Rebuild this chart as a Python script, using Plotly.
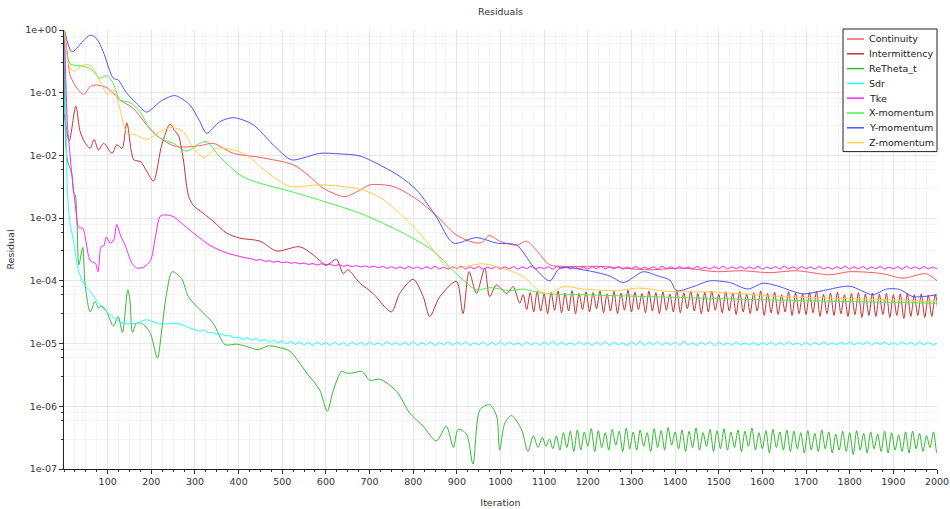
import plotly.graph_objects as go

# ---------------- data ----------------
cont_it = [1, 8, 14, 30, 45, 60, 75, 98, 128, 159, 189, 220, 258, 311, 342, 388, 449, 525, 560, 594,
           643, 678, 701, 754, 808, 853, 899, 945, 960, 974, 998, 1037, 1060, 1082, 1113, 1151, 1227,
           1342, 1418, 1495, 1551, 1617, 1678, 1754, 1800, 1876, 1922, 1975, 2000]
cont_val = [1.0, 0.4, 0.19, 0.117, 0.094, 0.125, 0.133, 0.12, 0.077, 0.056, 0.031, 0.019, 0.0138,
            0.0143, 0.0156, 0.0108, 0.0093, 0.0071, 0.0048, 0.003, 0.0022, 0.0028, 0.0034, 0.0032,
            0.002, 0.0011, 5.4e-4, 4.0e-4, 4.2e-4, 5.3e-4, 4.3e-4, 3.7e-4, 4.3e-4, 3.1e-4, 1.8e-4,
            1.7e-4, 1.7e-4, 1.5e-4, 1.6e-4, 1.4e-4, 1.45e-4, 1.35e-4, 1.45e-4, 1.25e-4, 1.4e-4,
            1.3e-4, 1.1e-4, 1.3e-4, 1.0e-4]

inter_it = [1, 12, 27, 37, 49, 60, 69, 79, 91, 110, 121, 133, 144, 160, 175, 190, 205, 224, 243, 254,
            262, 273, 285, 296, 319, 342, 372, 403, 449, 487, 540, 571, 601, 624, 640, 650, 678, 708,
            750, 769, 800, 823, 838, 861, 899, 914, 928, 945, 964, 975, 991, 1014, 1029, 1044]
inter_val = [0.045, 0.017, 0.061, 0.024, 0.0156, 0.013, 0.018, 0.0122, 0.0156, 0.0108, 0.0148, 0.013,
             0.033, 0.0085, 0.008, 0.0055, 0.0039, 0.0148, 0.0316, 0.0245, 0.021, 0.009, 0.0023,
             0.0016, 0.0012, 8.9e-4, 5.8e-4, 4.8e-4, 4.3e-4, 3.0e-4, 3.5e-4, 2.6e-4, 1.8e-4, 2.2e-4,
             1.3e-4, 1.5e-4, 9.2e-5, 6.3e-5, 3.2e-5, 6.3e-5, 1.06e-4, 5.6e-5, 2.7e-5, 5.6e-5, 9.8e-5,
             3.0e-5, 1.4e-4, 6.3e-5, 1.6e-4, 5.6e-5, 8.6e-5, 6.3e-5, 8.1e-5, 4.4e-5]
inter_tail_start, inter_tail_step = 1052, 8
inter_tail = [6.0e-5, 3.5e-5, 6.5e-5, 3.2e-5, 6.8e-5, 3.3e-5, 6.2e-5, 3.0e-5, 6.6e-5, 3.4e-5,
              6.9e-5, 3.1e-5, 6.4e-5, 3.3e-5, 7.0e-5, 3.0e-5, 6.3e-5, 3.5e-5, 6.7e-5, 3.2e-5,
              6.5e-5, 3.6e-5, 6.9e-5, 3.1e-5, 6.2e-5, 3.3e-5, 6.8e-5, 3.0e-5, 6.4e-5, 3.4e-5,
              7.1e-5, 3.2e-5, 6.6e-5, 3.5e-5, 6.3e-5, 3.1e-5, 6.9e-5, 3.3e-5, 6.5e-5, 3.0e-5,
              6.7e-5, 3.4e-5, 6.2e-5, 3.2e-5, 7.0e-5, 3.1e-5, 6.4e-5, 3.6e-5, 6.8e-5, 3.3e-5,
              6.3e-5, 3.0e-5, 6.6e-5, 3.2e-5, 6.9e-5, 3.4e-5, 6.1e-5, 3.1e-5, 6.7e-5, 3.3e-5,
              6.4e-5, 2.9e-5, 6.8e-5, 3.2e-5, 6.2e-5, 3.0e-5, 6.5e-5, 3.3e-5, 6.9e-5, 2.8e-5,
              6.3e-5, 3.1e-5, 6.6e-5, 2.9e-5, 6.0e-5, 3.2e-5, 6.7e-5, 2.8e-5, 6.4e-5, 3.0e-5,
              6.2e-5, 2.9e-5, 6.5e-5, 3.1e-5, 6.8e-5, 2.7e-5, 6.1e-5, 3.0e-5, 6.4e-5, 2.8e-5,
              6.6e-5, 3.0e-5, 6.0e-5, 2.7e-5, 6.3e-5, 2.9e-5, 6.5e-5, 2.6e-5, 6.2e-5, 2.8e-5,
              6.4e-5, 2.7e-5, 6.1e-5, 2.9e-5, 6.3e-5, 2.6e-5, 6.0e-5, 2.8e-5, 6.2e-5, 2.5e-5,
              6.3e-5, 2.7e-5, 6.0e-5, 2.8e-5, 6.2e-5, 2.6e-5, 5.9e-5, 2.7e-5, 6.1e-5, 2.5e-5]

ret_it = [1, 7, 18, 22, 26, 30, 34, 43, 48, 60, 71, 79, 86, 98, 113, 124, 134, 146, 151, 157, 166,
          178, 197, 214, 224, 235, 248, 269, 285, 311, 342, 369, 395, 418, 445, 468, 495, 517, 556,
          586, 603, 617, 636, 647, 662, 682, 701, 724, 762, 792, 823, 853, 876, 892, 903, 922, 937,
          953, 975, 991, 998, 1010, 1025, 1048, 1063, 1075, 1086, 1096]
ret_val = [1.0, 0.009, 0.005, 0.0026, 0.0023, 7.9e-4, 1.8e-4, 3.4e-4, 9.2e-5, 3.2e-5, 4.7e-5, 3.7e-5,
           4.0e-5, 3.2e-5, 1.9e-5, 2.7e-5, 1.5e-5, 7.2e-5, 5.0e-5, 1.5e-5, 2.1e-5, 2.1e-5, 1.5e-5,
           5.9e-6, 1.67e-5, 6.3e-5, 1.4e-4, 1.1e-4, 5.6e-5, 3.5e-5, 2.1e-5, 9.6e-6, 9.8e-6, 9.0e-6,
           8.0e-6, 9.2e-6, 8.6e-6, 7.6e-6, 3.4e-6, 1.8e-6, 8.3e-7, 1.8e-6, 3.6e-6, 3.4e-6, 3.4e-6,
           3.6e-6, 2.6e-6, 2.7e-6, 1.73e-6, 7.8e-7, 4.8e-7, 2.8e-7, 4.8e-7, 2.2e-7, 4.3e-7, 3.6e-7,
           1.2e-7, 8.8e-7, 1.06e-6, 7.0e-7, 2.0e-7, 5.4e-7, 7.1e-7, 4.3e-7, 1.9e-7, 3.4e-7, 2.2e-7,
           3.2e-7]
ret_tail_start, ret_tail_step = 1104, 8
ret_tail = [2.3e-7, 3.0e-7, 2.1e-7, 3.4e-7, 2.0e-7, 3.8e-7, 2.2e-7, 4.0e-7, 1.9e-7, 4.2e-7,
            2.0e-7, 3.9e-7, 2.3e-7, 4.4e-7, 1.9e-7, 4.1e-7, 2.2e-7, 3.8e-7, 2.0e-7, 4.3e-7,
            2.4e-7, 4.0e-7, 1.9e-7, 4.5e-7, 2.1e-7, 3.9e-7, 2.0e-7, 4.2e-7, 2.3e-7, 3.8e-7,
            1.9e-7, 4.4e-7, 2.2e-7, 4.1e-7, 2.0e-7, 4.6e-7, 2.4e-7, 3.9e-7, 2.1e-7, 4.2e-7,
            1.9e-7, 4.0e-7, 2.2e-7, 4.5e-7, 2.0e-7, 3.8e-7, 2.3e-7, 4.3e-7, 1.9e-7, 4.1e-7,
            2.1e-7, 4.4e-7, 2.0e-7, 3.9e-7, 2.2e-7, 4.2e-7, 1.9e-7, 4.0e-7, 2.3e-7, 4.5e-7,
            2.0e-7, 3.8e-7, 2.1e-7, 4.1e-7, 1.8e-7, 4.3e-7, 2.2e-7, 3.9e-7, 2.0e-7, 4.2e-7,
            1.9e-7, 4.0e-7, 2.1e-7, 3.8e-7, 1.8e-7, 4.1e-7, 2.0e-7, 3.7e-7, 1.9e-7, 4.2e-7,
            2.1e-7, 3.9e-7, 1.8e-7, 3.6e-7, 2.0e-7, 4.0e-7, 1.9e-7, 3.8e-7, 1.7e-7, 4.1e-7,
            2.0e-7, 3.7e-7, 1.8e-7, 3.9e-7, 2.1e-7, 3.6e-7, 1.9e-7, 4.0e-7, 1.8e-7, 3.8e-7,
            2.0e-7, 3.5e-7, 1.9e-7, 3.9e-7, 1.8e-7, 4.0e-7, 2.1e-7, 3.7e-7, 1.9e-7, 3.4e-7,
            2.2e-7, 3.9e-7, 1.8e-7, 3.0e-7]

sdr_it = [1, 4, 7, 10, 14, 22, 30, 33, 44, 60, 82, 105, 136, 166, 189, 220, 258, 290]
sdr_val = [1.0, 0.05, 0.004, 0.0015, 7.9e-4, 4.3e-4, 1.8e-4, 1.5e-4, 9.2e-5, 6.8e-5, 4.2e-5, 2.9e-5,
           2.1e-5, 2.1e-5, 2.4e-5, 2.05e-5, 2.1e-5, 1.75e-5]
sdr_tail_start, sdr_tail_step = 300, 10
sdr_tail = [1.68e-5, 1.56e-5, 1.65e-5, 1.48e-5, 1.50e-5, 1.41e-5, 1.43e-5, 1.33e-5, 1.34e-5, 1.24e-5,
            1.27e-5, 1.17e-5, 1.24e-5, 1.13e-5, 1.21e-5, 1.09e-5, 1.17e-5, 1.05e-5, 1.13e-5, 1.03e-5,
            1.11e-5, 0.99e-5, 1.08e-5, 0.96e-5, 1.06e-5, 0.94e-5, 1.05e-5, 0.93e-5, 1.07e-5, 0.94e-5,
            1.05e-5, 0.92e-5, 1.07e-5, 0.94e-5, 1.04e-5, 0.91e-5, 1.08e-5, 0.95e-5, 1.05e-5, 0.93e-5,
            1.07e-5, 0.94e-5, 1.04e-5, 0.92e-5, 1.09e-5, 0.95e-5, 1.05e-5, 0.93e-5, 1.06e-5, 0.94e-5,
            1.08e-5, 0.93e-5, 1.04e-5, 0.94e-5, 1.07e-5, 0.92e-5, 1.05e-5, 0.95e-5, 1.08e-5, 0.93e-5,
            1.06e-5, 0.94e-5, 1.09e-5, 0.92e-5, 1.04e-5, 0.95e-5, 1.07e-5, 0.93e-5, 1.05e-5, 0.94e-5,
            1.08e-5, 0.93e-5, 1.06e-5, 0.95e-5, 1.04e-5, 0.92e-5, 1.07e-5, 0.94e-5, 1.05e-5, 0.93e-5,
            1.06e-5, 0.95e-5, 1.10e-5, 0.92e-5, 1.07e-5, 0.94e-5, 1.04e-5, 0.93e-5, 1.08e-5, 0.95e-5,
            1.05e-5, 0.92e-5, 1.07e-5, 0.94e-5, 1.09e-5, 0.93e-5, 1.06e-5, 0.95e-5, 1.04e-5, 0.92e-5,
            1.08e-5, 0.94e-5, 1.11e-5, 0.92e-5, 1.06e-5, 0.95e-5, 1.09e-5, 0.93e-5, 1.05e-5, 0.94e-5,
            1.07e-5, 0.92e-5, 1.10e-5, 0.94e-5, 1.04e-5, 0.93e-5, 1.06e-5, 0.95e-5, 1.08e-5, 0.92e-5,
            1.05e-5, 0.94e-5, 1.04e-5, 0.93e-5, 1.06e-5, 0.95e-5, 1.03e-5, 0.94e-5, 1.05e-5, 0.93e-5,
            1.04e-5, 0.95e-5, 1.06e-5, 0.93e-5, 1.05e-5, 0.94e-5, 1.07e-5, 0.95e-5, 1.04e-5, 0.93e-5,
            1.06e-5, 0.94e-5, 1.05e-5, 0.95e-5, 1.07e-5, 0.94e-5, 1.04e-5, 0.95e-5, 1.06e-5, 0.96e-5,
            1.07e-5, 0.95e-5, 1.05e-5, 0.96e-5, 1.08e-5, 0.94e-5, 1.06e-5, 0.96e-5, 1.07e-5, 0.95e-5,
            1.05e-5, 0.94e-5, 1.07e-5, 0.96e-5, 1.06e-5, 0.93e-5, 1.08e-5, 0.95e-5, 1.05e-5, 0.96e-5,
            1.00e-5]

tke_it = [1, 8, 14, 18, 26, 34, 43, 49, 60, 72, 78, 85, 91, 97, 106, 114, 121, 129, 140, 156, 167,
          182, 198, 209, 220, 231, 250, 281, 334, 372, 420]
tke_val = [1.0, 0.03, 0.01, 0.005, 0.0016, 7.1e-4, 6.9e-4, 4.8e-4, 2.1e-4, 1.9e-4, 1.4e-4, 3.5e-4,
           3.6e-4, 5.0e-4, 4.0e-4, 4.5e-4, 7.9e-4, 5.4e-4, 3.7e-4, 1.9e-4, 1.6e-4, 1.65e-4, 2.1e-4,
           4.8e-4, 1.06e-3, 1.13e-3, 1.06e-3, 7.1e-4, 3.7e-4, 2.8e-4, 2.3e-4]
tke_tail_start, tke_tail_step = 430, 10
tke_tail = [2.25e-4, 2.12e-4, 2.20e-4, 2.05e-4, 2.10e-4, 1.98e-4, 2.06e-4, 1.95e-4, 2.01e-4, 1.90e-4,
            1.97e-4, 1.86e-4, 1.93e-4, 1.82e-4, 1.90e-4, 1.78e-4, 1.88e-4, 1.76e-4, 1.84e-4, 1.74e-4,
            1.82e-4, 1.70e-4, 1.79e-4, 1.68e-4, 1.76e-4, 1.66e-4, 1.74e-4, 1.64e-4, 1.72e-4, 1.62e-4,
            1.70e-4, 1.58e-4, 1.69e-4, 1.56e-4, 1.68e-4, 1.55e-4, 1.70e-4, 1.57e-4, 1.67e-4, 1.54e-4,
            1.69e-4, 1.56e-4, 1.71e-4, 1.55e-4, 1.66e-4, 1.53e-4, 1.68e-4, 1.56e-4, 1.72e-4, 1.54e-4,
            1.67e-4, 1.55e-4, 1.70e-4, 1.53e-4, 1.66e-4, 1.56e-4, 1.71e-4, 1.54e-4, 1.68e-4, 1.55e-4,
            1.70e-4, 1.53e-4, 1.67e-4, 1.56e-4, 1.72e-4, 1.54e-4, 1.66e-4, 1.55e-4, 1.69e-4, 1.53e-4,
            1.71e-4, 1.56e-4, 1.67e-4, 1.54e-4, 1.70e-4, 1.55e-4, 1.66e-4, 1.53e-4, 1.69e-4, 1.56e-4,
            1.72e-4, 1.54e-4, 1.68e-4, 1.55e-4, 1.70e-4, 1.53e-4, 1.67e-4, 1.56e-4, 1.71e-4, 1.54e-4,
            1.66e-4, 1.55e-4, 1.69e-4, 1.53e-4, 1.72e-4, 1.56e-4, 1.68e-4, 1.54e-4, 1.70e-4, 1.55e-4,
            1.67e-4, 1.53e-4, 1.71e-4, 1.56e-4, 1.66e-4, 1.54e-4, 1.69e-4, 1.55e-4, 1.72e-4, 1.53e-4,
            1.68e-4, 1.56e-4, 1.70e-4, 1.54e-4, 1.67e-4, 1.55e-4, 1.71e-4, 1.53e-4, 1.66e-4, 1.56e-4,
            1.69e-4, 1.54e-4, 1.72e-4, 1.55e-4, 1.68e-4, 1.53e-4, 1.70e-4, 1.56e-4, 1.67e-4, 1.54e-4,
            1.71e-4, 1.55e-4, 1.66e-4, 1.53e-4, 1.69e-4, 1.56e-4, 1.72e-4, 1.54e-4, 1.68e-4, 1.55e-4,
            1.70e-4, 1.53e-4, 1.67e-4, 1.56e-4, 1.71e-4, 1.54e-4, 1.66e-4, 1.55e-4, 1.69e-4, 1.53e-4,
            1.72e-4, 1.56e-4, 1.68e-4, 1.54e-4, 1.70e-4, 1.55e-4, 1.67e-4, 1.56e-4]

xm_it = [1, 14, 37, 56, 67, 82, 98, 113, 128, 151, 174, 197, 220, 250, 281, 311, 327, 357, 403, 433,
         525, 601, 678, 731, 792, 846, 899, 945, 975, 1021, 1052, 1098, 1189, 1342, 1600, 2000]
xm_val = [1.0, 0.29, 0.27, 0.25, 0.22, 0.17, 0.187, 0.14, 0.077, 0.07, 0.05, 0.026, 0.019, 0.0156,
          0.0117, 0.0156, 0.0166, 0.0095, 0.0049, 0.0039, 0.0026, 0.0018, 0.0012, 8.3e-4, 5.1e-4,
          3.0e-4, 1.3e-4, 7.2e-5, 7.8e-5, 7.0e-5, 7.4e-5, 6.3e-5, 6.0e-5, 5.6e-5, 5.0e-5, 4.4e-5]

ym_it = [1, 18, 40, 60, 75, 90, 113, 124, 143, 166, 189, 205, 220, 254, 288, 310, 327, 357, 388, 433,
         479, 521, 550, 586, 630, 678, 731, 770, 808, 853, 892, 945, 991, 1037, 1075, 1113, 1136,
         1189, 1250, 1282, 1327, 1360, 1388, 1403, 1440, 1479, 1525, 1567, 1601, 1632, 1693, 1739,
         1800, 1853, 1884, 1914, 1945, 2000]
ym_val = [1.0, 0.45, 0.62, 0.83, 0.72, 0.45, 0.17, 0.16, 0.1, 0.068, 0.049, 0.058, 0.072, 0.09, 0.064,
          0.036, 0.0226, 0.0345, 0.04, 0.031, 0.0148, 0.0085, 0.0092, 0.0108, 0.0106, 0.0098, 0.0066,
          0.0046, 0.0028, 0.00105, 4.0e-4, 4.9e-4, 4.0e-4, 3.7e-4, 1.7e-4, 1.0e-4, 1.6e-4, 1.5e-4,
          1.2e-4, 9.4e-5, 1.4e-4, 1.2e-4, 1.03e-4, 7.0e-5, 8.0e-5, 1.0e-4, 9.4e-5, 7.4e-5, 9.2e-5,
          8.4e-5, 6.2e-5, 7.0e-5, 8.2e-5, 6.0e-5, 7.4e-5, 7.3e-5, 5.6e-5, 6.0e-5]

zm_it = [1, 11, 22, 41, 56, 67, 85, 100, 113, 128, 143, 166, 189, 220, 246, 273, 296, 321, 350, 411,
         464, 518, 586, 678, 731, 808, 846, 876, 899, 960, 1021, 1052, 1090, 1113, 1143, 1189, 1265,
         1319, 1380, 1495, 1647, 1800, 2000]
zm_val = [1.0, 0.28, 0.22, 0.27, 0.28, 0.245, 0.14, 0.095, 0.11, 0.056, 0.024, 0.021, 0.018, 0.024,
          0.028, 0.024, 0.013, 0.0093, 0.013, 0.0108, 0.0055, 0.0032, 0.0034, 0.0029, 0.002, 6.5e-4,
          3.1e-4, 1.7e-4, 1.6e-4, 1.87e-4, 1.45e-4, 1.17e-4, 6.8e-5, 6.3e-5, 8.1e-5, 7.4e-5, 7.0e-5,
          7.7e-5, 6.8e-5, 6.6e-5, 5.6e-5, 5.2e-5, 4.7e-5]

y_tick_vals = [1, 1e-1, 1e-2, 1e-3, 1e-4, 1e-5, 1e-6, 1e-7]
y_tick_text = ["1e+00", "1e-01", "1e-02", "1e-03", "1e-04", "1e-05", "1e-06", "1e-07"]
x_tick_vals = list(range(100, 2001, 100))


def tail_x(start, step, vals):
    return list(range(start, start + step * len(vals), step))


# (name, colour, list of (iterations, values, line shape) pieces)
series = [
    ("Continuity", "#ff5a5a", [(cont_it, cont_val, "spline")]),
    ("Intermittency", "#c23535",
     [(inter_it + tail_x(inter_tail_start, inter_tail_step, inter_tail), inter_val + inter_tail,
       "spline")]),
    ("ReTheta_t", "#33bb33",
     [(ret_it + tail_x(ret_tail_start, ret_tail_step, ret_tail), ret_val + ret_tail, "spline")]),
    ("Sdr", "#22ffff",
     [(sdr_it, sdr_val, "spline"),
      ([sdr_it[-1]] + tail_x(sdr_tail_start, sdr_tail_step, sdr_tail), [sdr_val[-1]] + sdr_tail,
       "linear")]),
    ("Tke", "#ff22ff",
     [(tke_it, tke_val, "spline"),
      ([tke_it[-1]] + tail_x(tke_tail_start, tke_tail_step, tke_tail), [tke_val[-1]] + tke_tail,
       "linear")]),
    ("X-momentum", "#4cee4c", [(xm_it, xm_val, "spline")]),
    ("Y-momentum", "#5252ff", [(ym_it, ym_val, "spline")]),
    ("Z-momentum", "#ffcc44", [(zm_it, zm_val, "spline")]),
]

fig = go.Figure()
for name, col, pieces in series:
    for xs, ys, shp in pieces:
        line = dict(color=col, width=1, shape=shp)
        if shp == "spline":
            line["smoothing"] = 0.8
        fig.add_trace(go.Scatter(x=xs, y=ys, name=name, mode="lines", showlegend=False, line=line))

# ---- compact legend box (drawn in paper coordinates, like the original's tight legend) ----
plot_w, plot_h = 950 - 64 - 13, 509 - 30 - 40
lg_left, lg_top, lg_row, lg_pad = 1 - 94 / plot_w, 1 + 1 / plot_h, 14.8 / plot_h, 10 / plot_h
shapes = [dict(type="rect", xref="paper", yref="paper", x0=lg_left, x1=1.0,
               y0=lg_top - lg_pad - lg_row * (len(series) - 1) - 9 / plot_h, y1=lg_top,
               line=dict(color="#222222", width=1), fillcolor="white", layer="above")]
annotations = []
for i, (name, col, _) in enumerate(series):
    yc = lg_top - lg_pad - lg_row * i
    shapes.append(dict(type="line", xref="paper", yref="paper",
                       x0=lg_left + 4 / plot_w, x1=lg_left + 21 / plot_w, y0=yc, y1=yc,
                       line=dict(color=col, width=1.5), layer="above"))
    annotations.append(dict(xref="paper", yref="paper", x=lg_left + 24 / plot_w, y=yc,
                            xanchor="left", yanchor="middle", text=name, showarrow=False,
                            font=dict(size=9.5, color="#222222")))

minor_y = []
for k in range(0, 7):
    for m in (8, 6, 3):
        minor_y.append(m * 10 ** (-k - 1))

font = "DejaVu Sans, Verdana, sans-serif"
fig.update_layout(
    width=950, height=509,
    margin=dict(l=64, r=13, t=30, b=40),
    paper_bgcolor="white", plot_bgcolor="white",
    font=dict(family=font, size=9.5, color="#333333"),
    title=dict(text="Residuals", x=0.5, xref="paper", xanchor="center", y=1 - 12 / 509,
               yref="container", yanchor="middle", font=dict(size=9.5, color="#333333")),
    showlegend=False,
    shapes=shapes,
    annotations=annotations,
    xaxis=dict(range=[0, 2000], tickmode="array", tickvals=x_tick_vals, ticks="outside",
               ticklen=4, tickcolor="#333", showline=True, linecolor="#222", linewidth=1,
               showgrid=True, gridcolor="#e6e6e6", gridwidth=1, zeroline=False,
               minor=dict(dtick=25, ticks="outside", ticklen=2, tickcolor="#333", showgrid=True,
                          gridcolor="#f5f5f5"),
               title=dict(text="Iteration", standoff=12, font=dict(size=9.5)),
               automargin=False),
    yaxis=dict(type="log", range=[-7, 0], tickmode="array", tickvals=y_tick_vals,
               ticktext=y_tick_text, ticks="outside", ticklen=4, tickcolor="#333",
               showline=True, linecolor="#222", linewidth=1, showgrid=True, gridcolor="#e6e6e6",
               zeroline=False,
               minor=dict(tickmode="array", tickvals=minor_y, ticks="outside", ticklen=2,
                          tickcolor="#333", showgrid=True, gridcolor="#f3f3f3"),
               title=dict(text="Residual", standoff=8, font=dict(size=9.5)),
               automargin=False),
)

fig.write_html("out.html")
